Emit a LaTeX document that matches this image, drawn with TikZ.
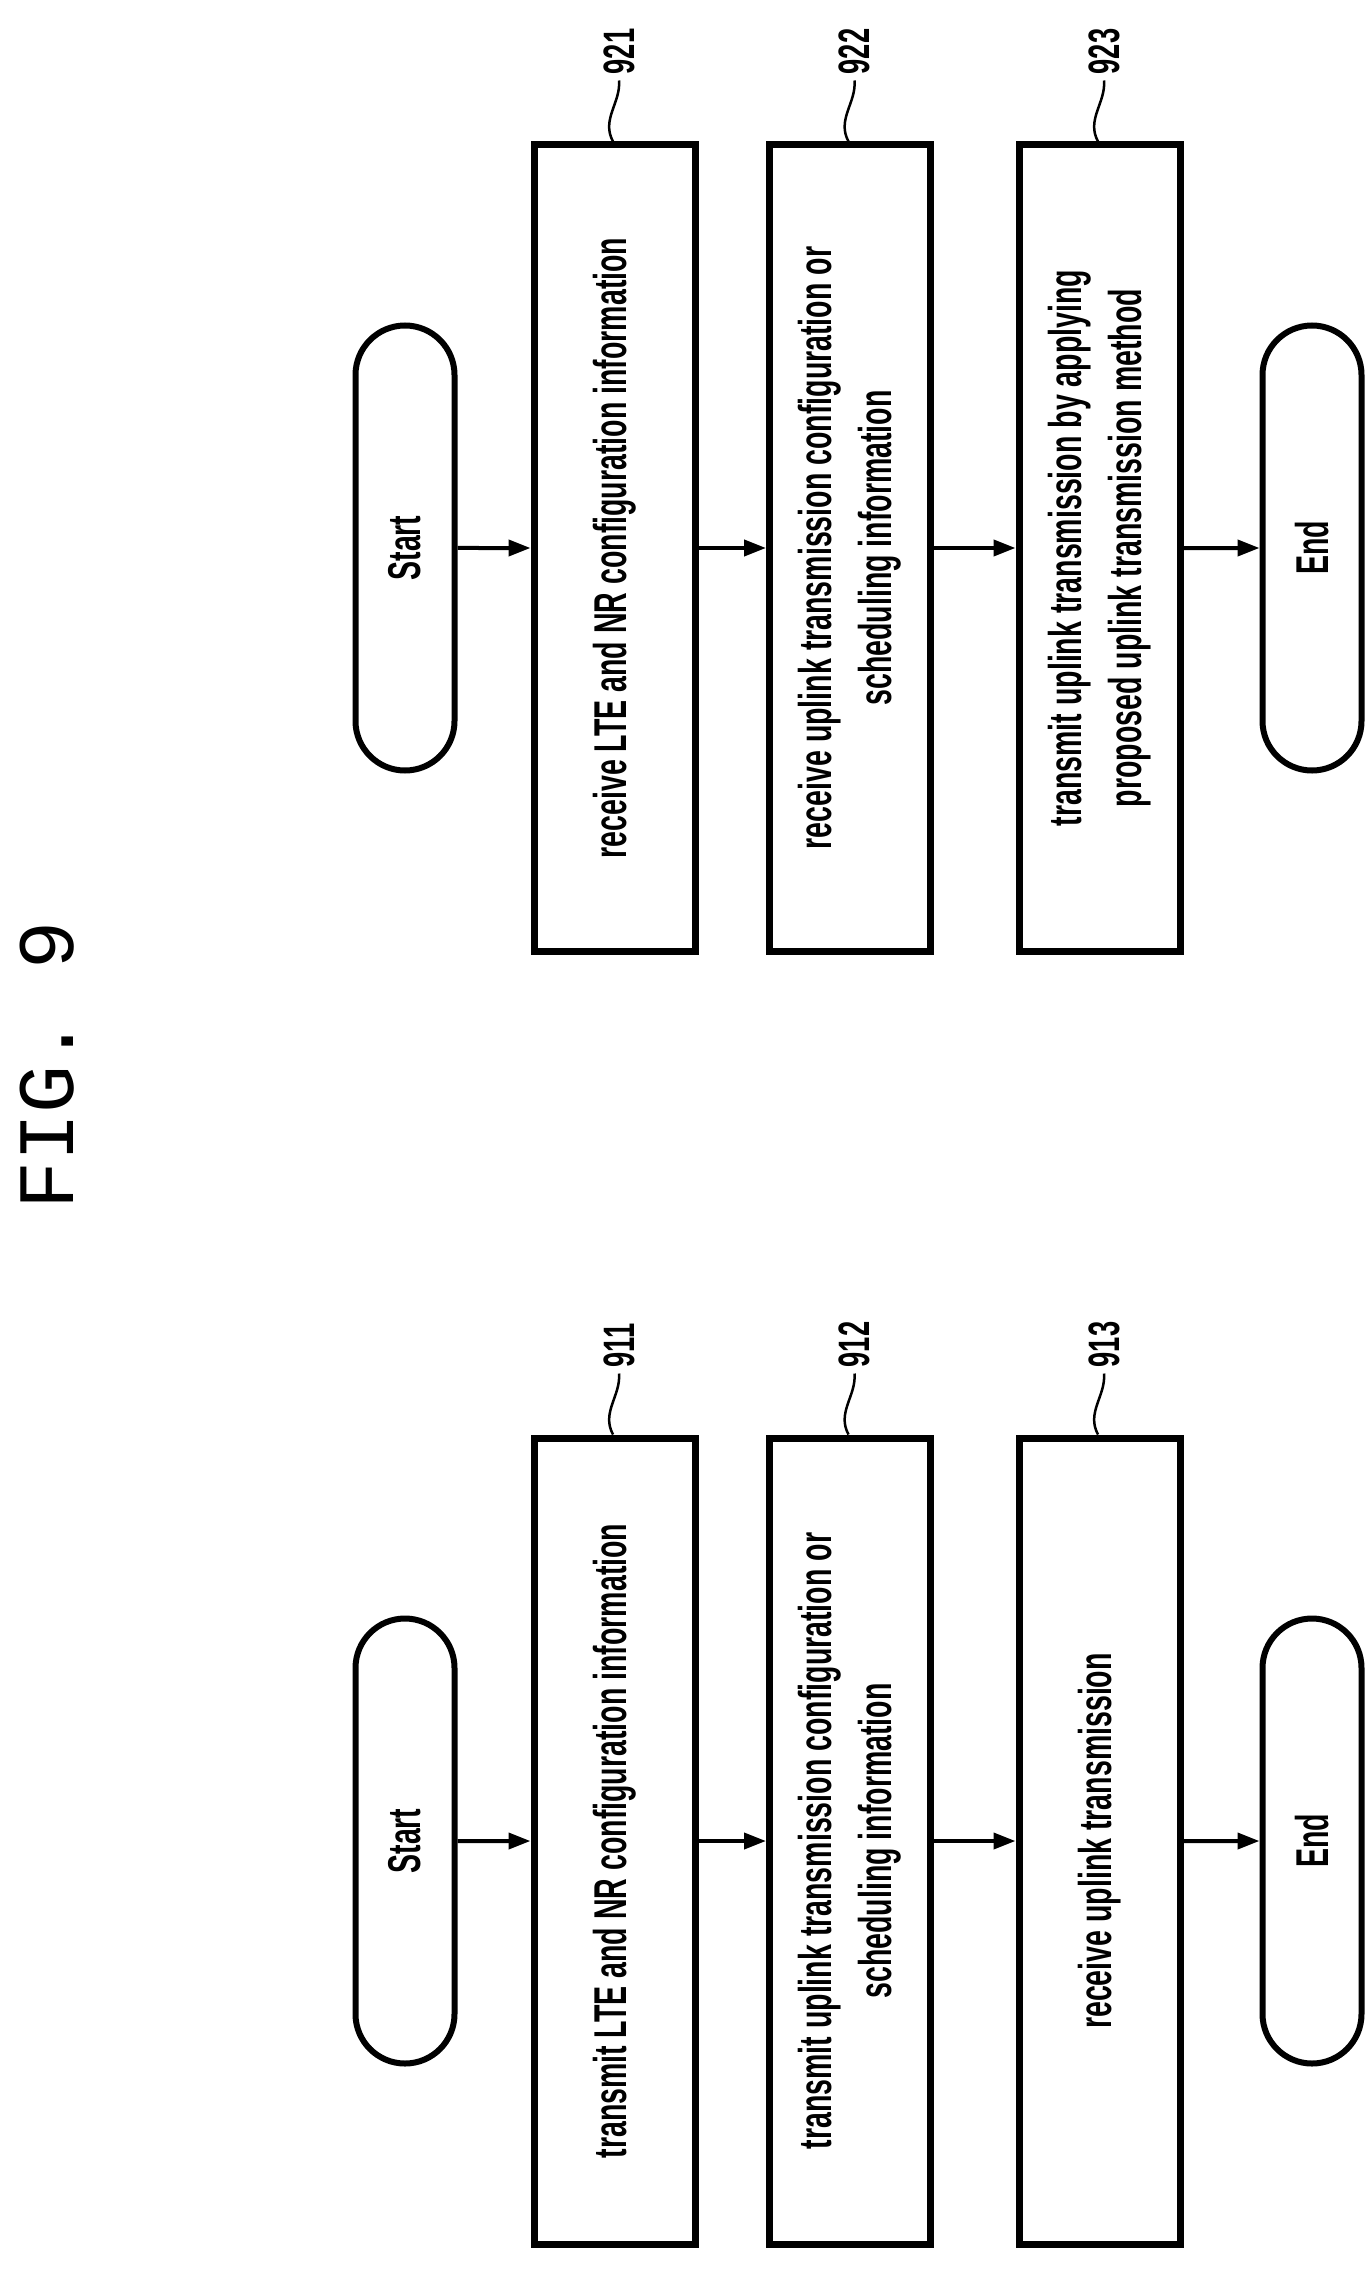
\documentclass[tikz,border=0pt]{standalone}
\usepackage{fontspec}
\setsansfont{Liberation Sans}[FakeStretch=0.62]
\setmonofont{Liberation Mono}
\usetikzlibrary{shapes.misc,arrows.meta}
\tikzset{
  proc/.style={draw,line width=7pt,rotate=90,minimum width=806pt,minimum height=161pt,
    align=center,inner sep=0pt,font=\sffamily\bfseries\fontsize{46}{60}\selectfont},
  term/.style={draw,line width=6pt,rounded rectangle,rotate=90,minimum width=445pt,
    minimum height=99pt,inner sep=0pt,font=\sffamily\bfseries\fontsize{46}{60}\selectfont},
  flow/.style={line width=4pt,-{Triangle[length=22pt,width=16pt]}},
  refnum/.style={rotate=90,inner sep=0pt,font=\sffamily\bfseries\fontsize{44}{50}\selectfont}
}
\begin{document}
\begin{tikzpicture}[x=1pt,y=-1pt]
  \useasboundingbox (0,0) rectangle (1368,2269);
  % Figure title
  \node[rotate=90,font=\ttfamily\fontsize{80}{90}\selectfont] (fig) at (47,1065) {FIG. 9};
  % Define the columns
  \def\xs{405}
  \def\xa{614.5}
  \def\xb{850}
  \def\xc{1099.5}
  \def\xe{1312}
  % Upper chart
  \def\yt{548}
  \node[term] (start2) at (\xs,\yt) {Start};
  \node[proc] (s921) at (\xa,\yt) {receive LTE and NR configuration information};
  \node[proc] (s922) at (\xb,\yt) {receive uplink transmission configuration or\\scheduling information};
  \node[proc] (s923) at (\xc,\yt) {transmit uplink transmission by applying\\proposed uplink transmission method};
  \node[term] (end2) at (\xe,\yt) {End};
  \draw[flow] (start2) -- (s921);
  \draw[flow] (s921) -- (s922);
  \draw[flow] (s922) -- (s923);
  \draw[flow] (s923) -- (end2);
  % Lower chart
  \def\yb{1841}
  \node[term] (start1) at (\xs,\yb) {Start};
  \node[proc] (s911) at (\xa,\yb) {transmit LTE and NR configuration information};
  \node[proc] (s912) at (\xb,\yb) {transmit uplink transmission configuration or\\scheduling information};
  \node[proc] (s913) at (\xc,\yb) {receive uplink transmission};
  \node[term] (end1) at (\xe,\yb) {End};
  \draw[flow] (start1) -- (s911);
  \draw[flow] (s911) -- (s912);
  \draw[flow] (s912) -- (s913);
  \draw[flow] (s913) -- (end1);
  % Reference numbers with squiggles
  \foreach \k in {911,912,913,921,922,923}{
    \draw[line width=2.5pt] ([xshift=-1.5pt]s\k.east) .. controls +(-12,-22) and +(2,22) .. ++(6,-61) coordinate (q\k);
    \node[refnum,anchor=west] (r\k) at ([yshift=6pt]q\k) {\k};
  }
\end{tikzpicture}
\end{document}
